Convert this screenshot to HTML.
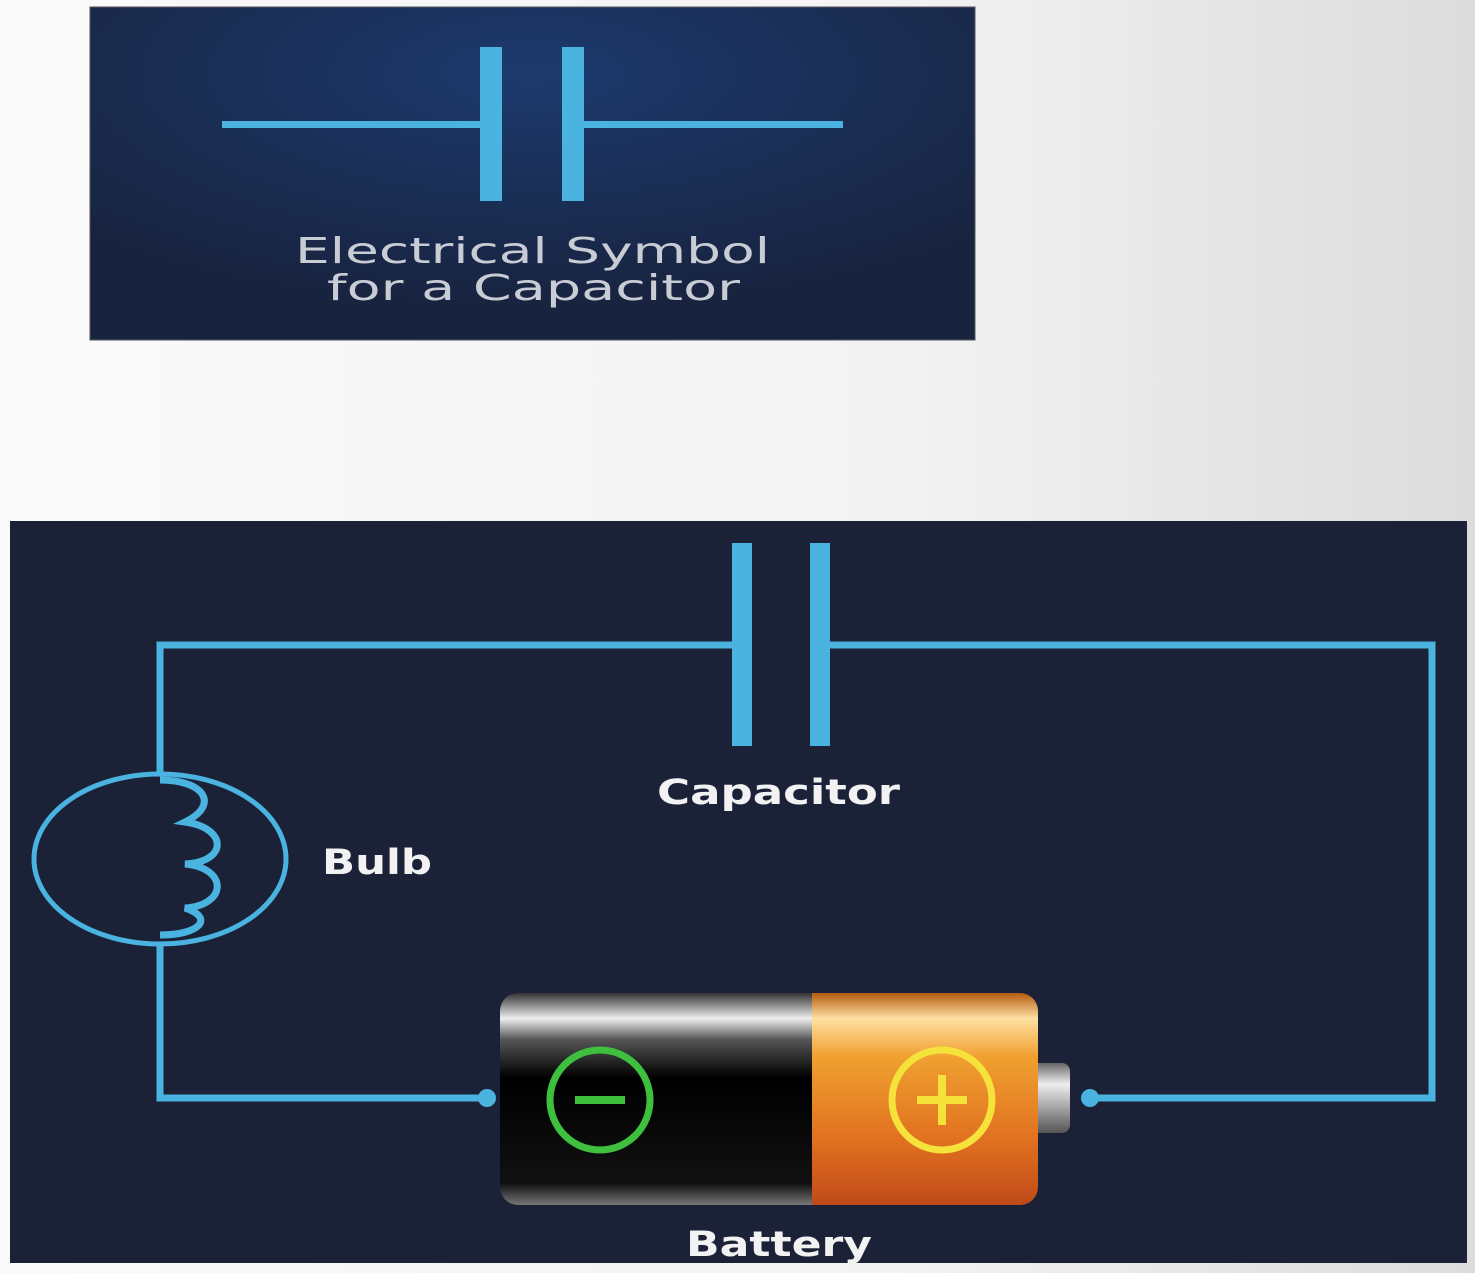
<!DOCTYPE html>
<html><head><meta charset="utf-8"><style>
html,body{margin:0;padding:0;width:1475px;height:1273px;overflow:hidden}
body{background:linear-gradient(90deg,#fafafa 0%,#f3f3f3 60%,#dcdcdc 100%)}
svg{position:absolute;left:0;top:0}
text{font-family:"DejaVu Sans","Liberation Sans",sans-serif}
</style></head><body>
<svg width="1475" height="1273" viewBox="0 0 1475 1273">
<defs>
<radialGradient id="topbg" cx="0.5" cy="0.2" r="0.7">
<stop offset="0" stop-color="#1d3a6e"/><stop offset="1" stop-color="#18233f"/>
</radialGradient>
<linearGradient id="blk" x1="0" y1="0" x2="0" y2="1">
<stop offset="0" stop-color="#333"/><stop offset="0.12" stop-color="#eee"/><stop offset="0.22" stop-color="#555"/><stop offset="0.4" stop-color="#000"/><stop offset="0.9" stop-color="#111"/><stop offset="1" stop-color="#777"/>
</linearGradient>
<linearGradient id="org" x1="0" y1="0" x2="0" y2="1">
<stop offset="0" stop-color="#b45a10"/><stop offset="0.12" stop-color="#fde0a0"/><stop offset="0.3" stop-color="#f0a030"/><stop offset="0.7" stop-color="#e07020"/><stop offset="1" stop-color="#c04a18"/>
</linearGradient>
<linearGradient id="cap" x1="0" y1="0" x2="0" y2="1">
<stop offset="0" stop-color="#666"/><stop offset="0.3" stop-color="#eee"/><stop offset="1" stop-color="#555"/>
</linearGradient>
</defs>
<g>
<rect x="90" y="7" width="885" height="333" fill="url(#topbg)" stroke="#555" stroke-width="1"/>
<g fill="#4ab3e0">
<rect x="222" y="121" width="260" height="7"/>
<rect x="480" y="47" width="22" height="154"/>
<rect x="562" y="47" width="22" height="154"/>
<rect x="584" y="121" width="259" height="7"/>
</g>
<text x="295" y="263" font-size="36" fill="#c8ccd4" textLength="475" lengthAdjust="spacingAndGlyphs">Electrical Symbol</text>
<text x="327" y="300" font-size="36" fill="#c8ccd4" textLength="413" lengthAdjust="spacingAndGlyphs">for a Capacitor</text>
</g>
<g>
<rect x="10" y="521" width="1457" height="742" fill="#1b2238"/>
<g fill="none" stroke="#4ab3e0" stroke-width="7">
<polyline points="734,645 160,645 160,772"/>
<polyline points="828,645 1432,645 1432,1098 1090,1098"/>
<polyline points="160,945 160,1098 487,1098"/>
<ellipse cx="160" cy="859" rx="126" ry="85" stroke-width="5"/>
<path d="M160,780 C205,780 220,805 185,822 C228,828 228,862 185,864 C228,868 228,905 185,908 C215,918 200,935 160,935" stroke-width="7"/>
</g>
<circle cx="487" cy="1098" r="9" fill="#4ab3e0"/>
<circle cx="1090" cy="1098" r="9" fill="#4ab3e0"/>
<g fill="#4ab3e0">
<rect x="732" y="543" width="20" height="203"/>
<rect x="810" y="543" width="20" height="203"/>
</g>
<g>
<rect x="1025" y="1063" width="45" height="70" rx="8" fill="url(#cap)"/>
<rect x="812" y="993" width="226" height="212" rx="18" fill="url(#org)"/>
<rect x="500" y="993" width="330" height="212" rx="18" fill="url(#blk)"/>
<rect x="812" y="993" width="20" height="212" fill="url(#org)"/>
<circle cx="600" cy="1100" r="50" fill="none" stroke="#3ec03e" stroke-width="7"/>
<rect x="575" y="1096" width="50" height="8" fill="#3ec03e"/>
<circle cx="942" cy="1100" r="50" fill="none" stroke="#f5e23a" stroke-width="7"/>
<rect x="917" y="1096" width="50" height="8" fill="#f5e23a"/>
<rect x="938" y="1075" width="8" height="50" fill="#f5e23a"/>
</g>
<text x="657" y="804" font-size="35" font-weight="bold" fill="#f2f2f2" textLength="243" lengthAdjust="spacingAndGlyphs">Capacitor</text>
<text x="322" y="874" font-size="35" font-weight="bold" fill="#f2f2f2" textLength="110" lengthAdjust="spacingAndGlyphs">Bulb</text>
<text x="686" y="1256" font-size="35" font-weight="bold" fill="#f2f2f2" textLength="186" lengthAdjust="spacingAndGlyphs">Battery</text>
</g>
</svg>
</body></html>
